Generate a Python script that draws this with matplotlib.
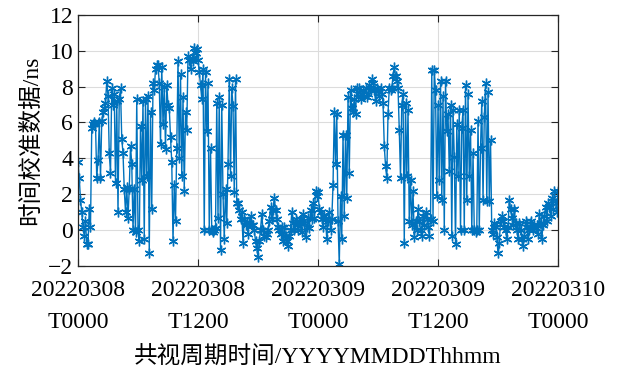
import numpy as np
import matplotlib
matplotlib.use("Agg")
import matplotlib.pyplot as plt

# time transfer values (ns), one row per hour, 8 samples per hour (7.5 min)
vals = [
    3.8, 2.9, 1.7, 1.0, 0.2, -0.3, 0.5, -0.8,
    -0.8, 1.2, 0.2, 5.7, 5.9, 6.0, 5.9, 2.9,
    3.9, 6.0, 2.9, 6.1, 6.6, 6.8, 7.1, 8.3,
    7.5, 4.3, 3.2, 7.9, 7.0, 7.6, 2.6, 7.2,
    1.0, 7.3, 7.9, 5.1, 4.3, 2.3, 1.0, 2.4,
    0.7, 2.3, 4.7, 3.7, 0.0, 2.3, -0.1, 7.3,
    0.0, -0.6, 5.8, 2.8, 7.2, -0.5, 7.3, 3.0,
    7.5, -1.3, 6.6, 1.2, 8.2, 7.8, 9.0, 9.2,
    9.2, 8.2, 4.8, 9.1, 5.9, 8.0, 4.5, 8.1,
    7.0, 6.8, 5.2, 3.8, -0.6, 2.5, 0.5, 4.6,
    9.4, 4.0, 8.7, 3.0, 7.4, 2.2, 6.6, 5.6,
    9.7, 9.5, 9.0, 9.6, 9.4, 10.15, 9.9, 10.1,
    9.5, 8.8, 8.1, 7.3, 9.0, 0.0, 8.8, 5.5,
    8.2, 0.0, 4.6, 0.0, -0.1, 0.0, 0.1, 7.1,
    0.7, 7.4, -1.1, 7.0, 2.0, -0.5, 2.3, 0.4,
    3.7, 8.4, 3.0, 7.9, 6.9, 2.1, 8.4, 1.5,
    1.5, 1.1, 0.6, 1.0, -0.7, 0.6, 0.3, 0.4,
    -0.2, 0.4, 0.8, 0.3, 0.3, 0.0, -0.6, -1.0,
    -1.5, -0.6, 0.0, 0.9, 0.0, -0.3, -0.4, -0.2,
    0.0, 0.5, 1.3, 0.6, 1.1, 1.8, 1.1, 0.6,
    0.2, 0.0, -0.2, 0.2, -0.6, 0.2, -0.3, -0.6,
    -0.9, -0.3, 0.0, 1.0, 0.4, 0.0, 0.6, 0.3,
    0.0, 0.4, 0.6, -0.1, 0.9, 0.4, -0.4, 0.2,
    0.7, 0.1, 1.1, 0.6, 1.5, 0.7, 2.2, 1.9,
    2.1, 1.2, 1.0, 0.6, 0.2, 0.8, 0.6, -0.5,
    0.5, 1.0, 0.0, 0.6, 2.5, 6.6, 3.7, 6.5,
    0.5, -1.9, 1.9, -0.5, 5.3, 0.8, 5.3, 1.8,
    7.4, 3.2, 7.8, 6.8, 6.6, 7.3, 6.5, 7.9,
    7.4, 7.9, 7.3, 7.6, 7.8, 7.5, 7.9, 7.4,
    7.6, 8.1, 7.8, 8.4, 8.2, 7.8, 7.2, 7.9,
    7.8, 7.5, 7.9, 7.6, 7.1, 4.7, 3.6, 2.9,
    6.5, 7.9, 7.8, 7.9, 8.6, 9.1, 8.6, 8.3,
    7.9, 5.6, 2.9, 7.0, 7.6, -0.7, 7.1, 3.0,
    6.7, 0.5, 2.8, 0.3, 2.2, -0.4, 0.5, 0.0,
    1.2, 0.5, 0.0, -0.3, 0.8, 0.3, 1.0, 0.6,
    0.2, -0.3, 0.6, 8.9, 0.5, 8.9, 7.8, 1.9,
    7.0, 2.8, 8.3, 1.7, 7.5, 0.0, 8.3, 5.5,
    6.5, 3.3, 7.0, -0.3, 6.7, 4.1, -0.8, 5.9,
    3.0, 6.7, 0.0, 5.7, 6.7, 0.0, 8.1, 1.7,
    7.6, 3.0, 5.6, 0.0, 4.3, 0.0, -0.1, 0.0,
    6.1, 0.0, 4.6, 7.2, 1.7, 6.3, 8.2, 1.6,
    7.7, 1.6, 5.0, 0.0, -0.2, 0.4, 0.2, -0.4,
    -1.3, -0.7, 0.5, 0.8, 0.5, 0.2, 0.0, -0.5,
    0.2, 1.7, 1.2, 0.7, 0.3, 1.2, 0.4, 0.0,
    -0.5, 0.4, 0.0, -0.5, -0.9, -0.3, 0.5, 0.2,
    -0.5, 0.0, 0.5, 0.2, 0.0, 0.3, 0.1, 0.3,
    -0.2, 0.9, 0.4, -0.5, 0.3, 0.8, 1.3, 0.5,
    1.5, 1.3, 0.8, 1.8, 1.2, 2.2, 1.5, 1.0,
    2.2,
]
hours = np.arange(len(vals)) / 8.0  # hours since 20220308T0000

xtick_pos = [0, 12, 24, 36, 48]
xtick_lab = ["20220308\nT0000", "20220308\nT1200", "20220309\nT0000",
             "20220309\nT1200", "20220310\nT0000"]
ytick_pos = [-2, 0, 2, 4, 6, 8, 10, 12]

plt.rcParams['font.family'] = ['Liberation Serif', 'Noto Sans CJK SC']
plt.rcParams['axes.unicode_minus'] = True

fig = plt.figure(figsize=(6.21, 3.71), dpi=100)
ax = fig.add_axes([0.1256, 0.283, 0.773, 0.677])
# asterisk marker like matlab '*'
ax.plot(hours, vals, "-", marker=(6, 2, 0), color="#0072BD", lw=1.0,
        ms=7, mew=1.0)

ax.set_xlim(0, 48)
ax.set_ylim(-2, 12)
ax.set_xticks(xtick_pos)
ax.set_xticklabels(xtick_lab, linespacing=1.7)
ax.set_yticks(ytick_pos)
ax.tick_params(direction="in", top=True, right=True, labelsize=17,
               length=5, width=0.8, color="#262626")
ax.tick_params(axis="x", pad=10)
ax.grid(True, color="#dcdcdc", lw=0.8)
ax.set_axisbelow(True)
for s in ax.spines.values():
    s.set_color("#262626")
    s.set_linewidth(0.9)

ax.set_xlabel("共视周期时间/YYYYMMDDThhmm", fontsize=17, labelpad=10)
ax.set_ylabel("时间校准数据/ns", fontsize=17, labelpad=4)

fig.savefig("out.png", dpi=100)
